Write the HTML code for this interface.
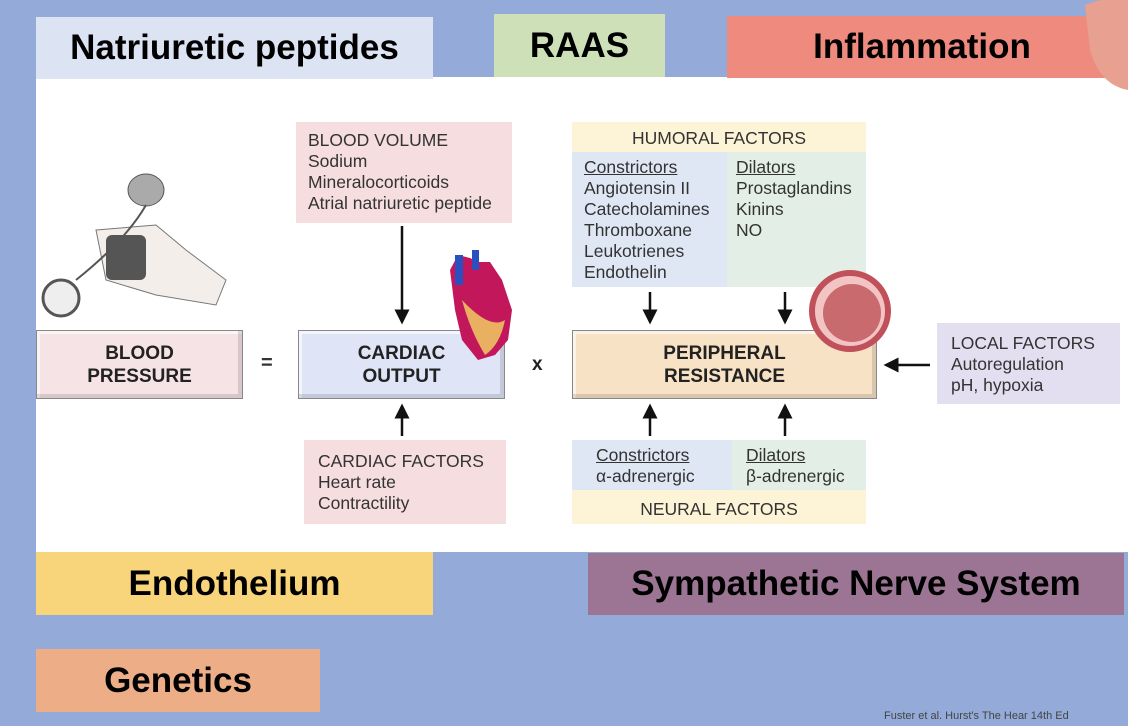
<!DOCTYPE html>
<html><head><meta charset="utf-8"><style>
body{margin:0;width:1128px;height:726px;background:#94aad8;position:relative;overflow:hidden;font-family:"Liberation Sans",sans-serif}
.a{position:absolute}
.tag{position:absolute;font-weight:bold;font-size:35px;display:flex;align-items:center;justify-content:center;color:#000;letter-spacing:0px}
.box{position:absolute;font-size:17.5px;color:#333;line-height:21px}
.main{position:absolute;display:flex;align-items:center;justify-content:center;text-align:center;font-weight:bold;font-size:19px;color:#222;line-height:23px;border:1px solid #888;box-shadow:inset -4px -4px 0 rgba(0,0,0,.12),inset 3px 3px 0 rgba(255,255,255,.6)}
u{text-decoration:underline}
</style></head><body>
<div class="a" style="left:36px;top:77px;width:1092px;height:475px;background:#fff"></div>
<div class="tag" style="left:36px;top:17px;width:397px;height:62px;background:#dce3f2">Natriuretic peptides</div>
<div class="tag" style="left:494px;top:14px;width:171px;height:63px;background:#cde0b8">RAAS</div>
<div class="tag" style="left:727px;top:16px;width:390px;height:62px;background:#ef8a7e">Inflammation</div>
<div class="tag" style="left:36px;top:552px;width:397px;height:63px;background:#f8d57a">Endothelium</div>
<div class="tag" style="left:588px;top:553px;width:536px;height:62px;background:#9b7593">Sympathetic Nerve System</div>
<div class="tag" style="left:36px;top:649px;width:284px;height:63px;background:#ecad87">Genetics</div>
<div class="a" style="left:884px;top:710px;font-size:11px;color:#444">Fuster et al. Hurst's The Hear 14th Ed</div>

<svg class="a" style="left:36px;top:130px" width="200" height="190">
<ellipse cx="110" cy="60" rx="18" ry="16" fill="#aaa" stroke="#555"/>
<path d="M60 100 L120 95 L150 120 L190 150 L180 175 L120 165 L70 150Z" fill="#f3eee9" stroke="#777"/>
<rect x="70" y="105" width="40" height="45" rx="6" fill="#555"/>
<circle cx="25" cy="168" r="18" fill="#eee" stroke="#555" stroke-width="3"/>
<path d="M110 75 Q90 110 40 150" fill="none" stroke="#555" stroke-width="2"/>
</svg>

<div class="main" style="left:36px;top:330px;width:205px;height:67px;background:#f6e3e6">BLOOD<br>PRESSURE</div>
<div class="a" style="left:261px;top:352px;font-size:20px;font-weight:bold;color:#333">=</div>
<div class="main" style="left:298px;top:330px;width:205px;height:67px;background:#dfe5f6">CARDIAC<br>OUTPUT</div>
<div class="a" style="left:532px;top:354px;font-size:19px;font-weight:bold;color:#222">x</div>
<div class="main" style="left:572px;top:330px;width:303px;height:67px;background:#f8e2c6">PERIPHERAL<br>RESISTANCE</div>

<div class="box" style="left:296px;top:122px;height:101px;background:#f5dde0;padding:8px 0 0 12px;box-sizing:border-box;width:216px">BLOOD VOLUME<br>Sodium<br>Mineralocorticoids<br>Atrial natriuretic peptide</div>
<div class="box" style="left:304px;top:440px;width:202px;height:84px;background:#f5dde0;padding:11px 0 0 14px;box-sizing:border-box">CARDIAC FACTORS<br>Heart rate<br>Contractility</div>

<div class="a" style="left:572px;top:122px;width:294px;height:165px;background:#e2eee6"></div>
<div class="a" style="left:572px;top:152px;width:155px;height:135px;background:#dfe7f5"></div>
<div class="a" style="left:572px;top:122px;width:294px;height:30px;background:#fdf3d6"></div>
<div class="box" style="left:572px;top:128px;width:294px;text-align:center">HUMORAL FACTORS</div>
<div class="box" style="left:584px;top:157px"><u>Constrictors</u><br>Angiotensin II<br>Catecholamines<br>Thromboxane<br>Leukotrienes<br>Endothelin</div>
<div class="box" style="left:736px;top:157px"><u>Dilators</u><br>Prostaglandins<br>Kinins<br>NO</div>

<div class="a" style="left:572px;top:440px;width:294px;height:84px;background:#fdf3d6"></div>
<div class="a" style="left:572px;top:440px;width:160px;height:50px;background:#dfe7f5"></div>
<div class="a" style="left:732px;top:440px;width:134px;height:50px;background:#e2eee6"></div>
<div class="box" style="left:596px;top:445px"><u>Constrictors</u><br>α-adrenergic</div>
<div class="box" style="left:746px;top:445px"><u>Dilators</u><br>β-adrenergic</div>
<div class="box" style="left:572px;top:499px;width:294px;text-align:center">NEURAL FACTORS</div>

<div class="box" style="left:937px;top:323px;width:183px;height:81px;background:#e4dff0;padding:10px 0 0 14px;box-sizing:border-box">LOCAL FACTORS<br>Autoregulation<br>pH, hypoxia</div>

<svg class="a" style="left:0;top:0" width="1128" height="726">
<defs><marker id="m" markerWidth="6" markerHeight="6" refX="5" refY="3" orient="auto"><path d="M0,0 L6,3 L0,6Z" fill="#111"/></marker></defs>
<g stroke="#111" stroke-width="2.5" marker-end="url(#m)">
<line x1="402" y1="226" x2="402" y2="322"/>
<line x1="402" y1="436" x2="402" y2="406"/>
<line x1="650" y1="292" x2="650" y2="322"/>
<line x1="785" y1="292" x2="785" y2="322"/>
<line x1="650" y1="436" x2="650" y2="406"/>
<line x1="785" y1="436" x2="785" y2="406"/>
<line x1="930" y1="365" x2="886" y2="365"/>
</g>
<path d="M450 270 L458 255 L470 258 L478 262 L490 262 L502 280 L512 310 L508 340 L495 355 L478 360 L462 340 L455 310Z" fill="#c2185b"/>
<path d="M462 300 Q470 330 485 355 Q500 345 505 320 Q490 330 462 300Z" fill="#e8b060"/>
<rect x="455" y="255" width="8" height="30" fill="#2a50c0"/>
<rect x="472" y="250" width="7" height="20" fill="#2a50c0"/>
<circle cx="850" cy="311" r="38" fill="#f2c4c4" stroke="#c0505a" stroke-width="6"/>
<circle cx="852" cy="313" r="29" fill="#c86a6e"/>
<path d="M1085 5 Q1110 -5 1128 0 L1128 90 Q1100 85 1090 50Z" fill="#e8a090"/>
</svg>
</body></html>
